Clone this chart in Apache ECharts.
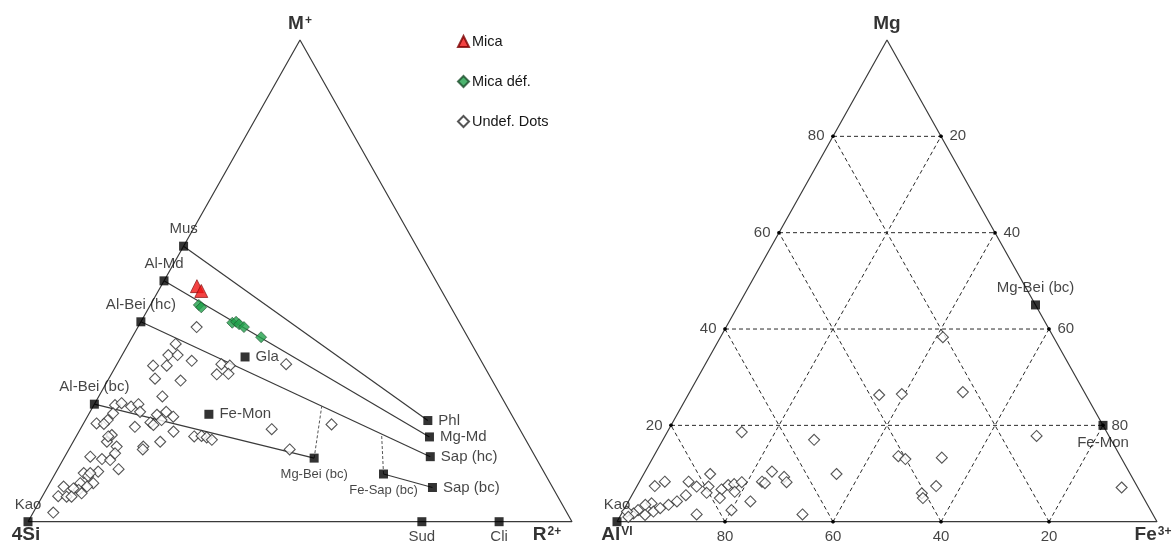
<!DOCTYPE html>
<html><head><meta charset="utf-8">
<script src="https://cdn.jsdelivr.net/npm/echarts@6/dist/echarts.min.js"></script>
<style>html,body{margin:0;padding:0;background:#fff}#c{width:1174px;height:545px}</style>
</head><body><div id="c"></div>
<script>
// ===== Left diagram (M+ – 4Si – R2+), values in %: [M+, R2+], 4Si = 100 - M+ - R2+
const refNamesLeft = ['Kao','Mus','Al-Md','Al-Bei (hc)','Al-Bei (bc)','Phl','Mg-Md','Sap (hc)','Sap (bc)','Mg-Bei (bc)','Fe-Sap (bc)','Gla','Fe-Mon','Sud','Cli'];
const refMLeft = [0, 57.2, 50.0, 41.5, 24.4, 21.0, 17.6, 13.5, 7.1, 13.2, 9.9, 34.2, 22.3, 0, 0];
const refRLeft = [0, 0, 0, 0, 0, 63.0, 65.0, 67.2, 70.8, 46.0, 60.4, 22.8, 22.1, 72.4, 86.6];
const tieLines = [['Mus','Phl'],['Al-Md','Mg-Md'],['Al-Bei (hc)','Sap (hc)'],['Al-Bei (bc)','Mg-Bei (bc)'],['Fe-Sap (bc)','Sap (bc)']];
const dashedFrom = ['Mg-Bei (bc)','Fe-Sap (bc)'];
const dashedTo = [[24.0, 42.0],[18.2, 55.9]];
const micaLeft = [[48.9,6.6],[47.9,7.9]];
const micaDefLeft = [[45.0,8.9],[44.5,9.6],[41.3,16.9],[41.5,17.5],[41.0,18.3],[40.4,19.5],[38.3,23.7]];
const undefLeft = [
 [40.4,10.8],[36.9,8.7],[34.6,8.5],[34.6,10.2],[33.4,13.4],[32.4,6.8],[32.4,9.3],[32.7,19.2],[32.4,20.9],[30.6,19.4],
 [30.7,21.5],[29.7,8.5],[29.3,13.4],[32.7,31.1],[26.0,11.7],[24.2,3.9],[24.6,4.9],[23.9,7.0],[24.4,8.1],[22.8,9.2],
 [22.2,12.6],[22.8,14.0],[21.8,15.8],[22.5,4.4],[21.1,4.1],[20.4,2.4],[20.3,3.8],[19.7,9.8],[20.6,12.2],[20.1,13.0],
 [18.7,17.4],[16.6,16.0],[17.7,21.7],[17.8,23.0],[17.5,24.1],[17.0,25.3],[19.2,35.2],[15.0,40.6],[16.6,6.2],[18.0,6.4],
 [15.6,8.5],[15.6,13.4],[15.0,13.6],[13.5,4.7],[13.0,7.1],[12.8,8.7],[14.2,8.9],[10.9,11.2],[10.4,7.7],[10.1,5.2],
 [9.5,6.3],[8.0,5.6],[8.0,8.0],[7.3,7.2],[6.6,6.0],[6.9,4.9],[7.3,2.9],[5.3,2.9],[5.2,4.5],[5.2,5.4],
 [5.9,6.9],[1.9,3.7],[20.2,45.7],[17.7,5.9],[21.1,14.0],[10.1,6.4]
];
// ===== Right diagram (Mg – AlVI – Fe3+), values in %: [Mg, Fe3+], AlVI = 100 - Mg - Fe3+
const refNamesRight = ['Kao','Mg-Bei (bc)','Fe-Mon'];
const refMgRight = [0, 45.0, 20.0];
const refFeRight = [0, 55.0, 80.0];
const tickValues = [20, 40, 60, 80];
const undefRight = [
 [38.3,41.2],[26.9,50.6],[26.5,39.5],[26.3,35.4],[17.8,68.8],[13.6,45.3],[13.0,46.9],[13.3,53.5],[7.4,55.4],[5.9,53.5],
 [4.9,54.2],[7.1,89.9],[18.6,13.8],[17.0,28.0],[9.9,12.3],[8.3,9.1],[8.3,4.7],[7.4,3.3],[7.3,11.1],[7.3,13.3],
 [6.0,13.6],[6.7,16.0],[7.6,16.8],[7.8,17.8],[8.2,19.0],[6.2,18.7],[4.9,16.6],[4.2,22.6],[2.4,20.0],[10.4,23.5],
 [9.3,26.3],[8.2,27.3],[8.3,22.7],[8.0,23.4],[9.9,35.7],[1.5,33.6],[1.5,14.0],[5.5,10.0],[4.2,9.0],[3.5,7.8],
 [3.8,4.5],[3.5,3.5],[2.4,2.7],[2.1,5.7],[1.7,2.2],[1.4,4.5],[2.1,0.8],[1.0,1.6],[2.8,6.6]
];

// ternary -> cartesian (x along base in %, y = height in %)
const tern = (top, right) => [right + top / 2, top];

const FONT = 'Liberation Sans, Arial, sans-serif';
const lineColor = '#3a3a3a';
const textColor = '#151515';

const leftLabelPos = {'Kao':'top','Mus':'top','Al-Md':'top','Al-Bei (hc)':'top','Al-Bei (bc)':'top',
  'Phl':'right','Mg-Md':'right','Sap (hc)':'right','Sap (bc)':'right','Gla':'right','Fe-Mon':'right',
  'Mg-Bei (bc)':'bottom','Fe-Sap (bc)':'bottom','Sud':'bottom','Cli':'bottom'};
const smallLabels = ['Mg-Bei (bc)','Fe-Sap (bc)'];
const rightLabelPos = {'Kao':'top','Mg-Bei (bc)':'top','Fe-Mon':'bottom'};

const refLeftPt = {};
refNamesLeft.forEach((n,i)=>{ refLeftPt[n] = tern(refMLeft[i], refRLeft[i]); });

const series = [];
const axisPair = (g) => ({xAxisIndex: g, yAxisIndex: g});

// outlines
[0,1].forEach(g => series.push(Object.assign({
  type:'line', data:[tern(0,0), tern(0,100), tern(100,0), tern(0,0)], symbol:'none', clip:false,
  lineStyle:{color:lineColor, width:1.2}, silent:true, z:2, animation:false
}, axisPair(g))));

// tie lines (left)
tieLines.forEach(([a,b]) => series.push(Object.assign({
  type:'line', data:[refLeftPt[a], refLeftPt[b]], symbol:'none', clip:false,
  lineStyle:{color:lineColor, width:1.2}, silent:true, z:2, animation:false
}, axisPair(0))));
dashedFrom.forEach((a,i) => series.push(Object.assign({
  type:'line', data:[refLeftPt[a], tern(dashedTo[i][0], dashedTo[i][1])], symbol:'none', clip:false,
  lineStyle:{color:'#555', width:1, type:[3,2]}, silent:true, z:2, animation:false
}, axisPair(0))));

// right grid dashed lines
const tickDots = [];
tickValues.forEach(v => {
  const segs = [
    [tern(v,0), tern(v,100-v)],      // Mg = v
    [tern(0,v), tern(100-v,v)],      // Fe = v
    [tern(0,100-v), tern(100-v,0)]   // Al = v
  ];
  segs.forEach(s => {
    series.push(Object.assign({type:'line', data:s, symbol:'none', clip:false,
      lineStyle:{color:'#2a2a2a', width:1, type:[4,3]}, silent:true, z:1, animation:false}, axisPair(1)));
    tickDots.push(s[0], s[1]);
  });
});
series.push(Object.assign({type:'scatter', data:tickDots, symbol:'circle', symbolSize:3.5, clip:false,
  itemStyle:{color:'#000'}, silent:true, z:3, animation:false}, axisPair(1)));

// tick labels right
const tickLabelData = [];
tickValues.forEach(v => {
  tickLabelData.push({value:tern(v,0), name:String(v), label:{position:'left', distance:8}});
  tickLabelData.push({value:tern(100-v,v), name:String(v), label:{position:'right', distance:8}});
  tickLabelData.push({value:tern(0,100-v), name:String(v), label:{position:'bottom', distance:7}});
});
series.push(Object.assign({type:'scatter', data:tickLabelData, symbolSize:1, clip:false,
  itemStyle:{color:'rgba(0,0,0,0)'}, silent:true, z:6, animation:false,
  label:{show:true, formatter:'{b}', color:textColor, fontSize:15, fontFamily:FONT}}, axisPair(1)));

// undefined dots
const diamondStyle = {color:'#fff', borderColor:'#2a2a2a', borderWidth:1.1};
series.push(Object.assign({type:'scatter', name:'Undef. Dots', data:undefLeft.map(p=>tern(p[0],p[1])),
  symbol:'diamond', symbolSize:11, clip:false, itemStyle:diamondStyle, z:4, animation:false}, axisPair(0)));
series.push(Object.assign({type:'scatter', name:'Undef. Dots', data:undefRight.map(p=>tern(p[0],p[1])),
  symbol:'diamond', symbolSize:11, clip:false, itemStyle:diamondStyle, z:4, animation:false}, axisPair(1)));

// mica défini
series.push(Object.assign({type:'scatter', name:'Mica déf.', data:micaDefLeft.map(p=>tern(p[0],p[1])),
  symbol:'diamond', symbolSize:11, clip:false, itemStyle:{color:'#1fa04a', borderColor:'#1d4d2c', borderWidth:0.8}, z:5, animation:false}, axisPair(0)));
// mica
series.push(Object.assign({type:'scatter', name:'Mica', data:micaLeft.map(p=>tern(p[0],p[1])),
  symbol:'triangle', symbolSize:13, clip:false, itemStyle:{color:'#f01414', borderColor:'#7a0000', borderWidth:0.8}, z:6, animation:false}, axisPair(0)));

// reference minerals
const refStyle = {color:'#000'};
series.push(Object.assign({type:'scatter', data:refNamesLeft.map((n,i)=>({
    name:n, value:tern(refMLeft[i], refRLeft[i]),
    label:{position:leftLabelPos[n], distance: leftLabelPos[n]==='right'?6:(n==='Sud'||n==='Cli'?3:5),
           fontSize: smallLabels.includes(n)?13:15}
  })), symbol:'rect', symbolSize:9, clip:false, itemStyle:refStyle, z:7, animation:false,
  label:{show:true, formatter:'{b}', color:textColor, fontFamily:FONT}}, axisPair(0)));
series.push(Object.assign({type:'scatter', data:refNamesRight.map((n,i)=>({
    name:n, value:tern(refMgRight[i], refFeRight[i]),
    label:{position:rightLabelPos[n], distance:5}
  })), symbol:'rect', symbolSize:9, clip:false, itemStyle:refStyle, z:7, animation:false,
  label:{show:true, formatter:'{b}', color:textColor, fontSize:15, fontFamily:FONT}}, axisPair(1)));

// corner labels
const rich = {
  b:{fontSize:19, fontWeight:'bold', color:'#000', fontFamily:FONT},
  s:{fontSize:12, fontWeight:'bold', color:'#000', fontFamily:FONT, verticalAlign:'top', padding:[0,0,0,1]}
};
const cornerLeft = [
  {value:tern(100,0), label:{formatter:'{b|M}{s|+}', position:'top', distance:6}},
  {value:tern(0,0), label:{formatter:'{b|4Si}', position:'bottom', distance:3, offset:[-2,0]}},
  {value:tern(0,100), label:{formatter:'{b|R}{s|2+}', position:'bottom', distance:3, offset:[-25,0]}}
];
const cornerRight = [
  {value:tern(100,0), label:{formatter:'{b|Mg}', position:'top', distance:6}},
  {value:tern(0,0), label:{formatter:'{b|Al}{s|VI}', position:'bottom', distance:3}},
  {value:tern(0,100), label:{formatter:'{b|Fe}{s|3+}', position:'bottom', distance:3, offset:[-4,0]}}
];
[[cornerLeft,0],[cornerRight,1]].forEach(([d,g]) => series.push(Object.assign({type:'scatter', data:d,
  symbolSize:1, clip:false, itemStyle:{color:'rgba(0,0,0,0)'}, silent:true, z:8, animation:false,
  label:{show:true, rich:rich}}, axisPair(g))));

const option = {
  animation:false,
  backgroundColor:'#fff',
  textStyle:{fontFamily:FONT},
  grid:[
    {left:28, width:544, top:40, height:481.7},
    {left:617, width:540, top:40, height:481.7}
  ],
  xAxis:[0,1].map(g=>({type:'value', gridIndex:g, min:0, max:100, show:false})),
  yAxis:[0,1].map(g=>({type:'value', gridIndex:g, min:0, max:100, show:false})),
  legend:{
    data:['Mica','Mica déf.','Undef. Dots'], orient:'vertical', left:452, top:29,
    itemWidth:11, itemHeight:11, itemGap:25, selectedMode:false,
    textStyle:{fontSize:14.5, color:textColor, fontFamily:FONT, padding:[0,0,0,-2]}
  },
  series
};
const chart = echarts.init(document.getElementById('c'), null, {renderer:'canvas'});
chart.setOption(option);
</script>
</body></html>
